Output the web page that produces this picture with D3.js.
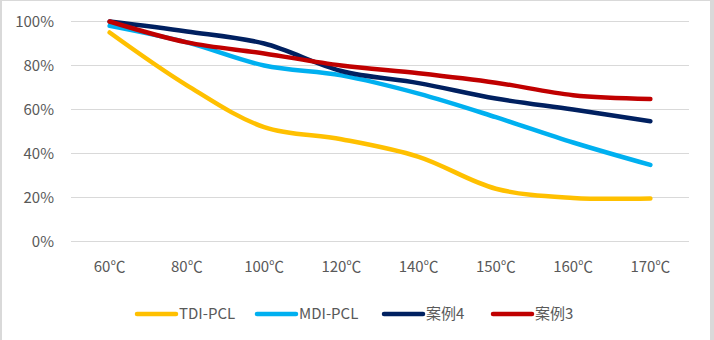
<!DOCTYPE html>
<html>
<head>
<meta charset="utf-8">
<script src="https://cdn.jsdelivr.net/npm/d3@7"></script>
<style>
  body { margin: 0; background: #fff; }
  svg text { font-family: "Noto Sans CJK SC", "Noto Sans", sans-serif; fill: #595959; }
</style>
</head>
<body>
<svg id="canvas" width="714" height="340"></svg>
<script>
// data
var categories = ['60℃', '80℃', '100℃', '120℃', '140℃', '150℃', '160℃', '170℃'];
var yTicks = [0, 0.2, 0.4, 0.6, 0.8, 1.0];
var seriesNames = ['TDI-PCL', 'MDI-PCL', '案例4', '案例3'];
var seriesColors = ['#FFC000', '#00B0F0', '#002060', '#C00000'];
var tdiPcl = [0.95, 0.71, 0.52, 0.465, 0.385, 0.24, 0.198, 0.196];
var mdiPcl = [0.98, 0.905, 0.80, 0.755, 0.672, 0.565, 0.45, 0.348];
var case4  = [1.00, 0.955, 0.90, 0.775, 0.72, 0.65, 0.60, 0.547];
var case3  = [1.00, 0.905, 0.855, 0.80, 0.765, 0.722, 0.665, 0.648];
var seriesValues = [tdiPcl, mdiPcl, case4, case3];

var svg = d3.select('#canvas');

// chart area frame
svg.append('rect').attr('x', 0).attr('y', 0).attr('width', 2).attr('height', 340).style('fill', '#D9D9D9');
svg.append('rect').attr('x', 710).attr('y', 0).attr('width', 4).attr('height', 340).style('fill', '#D9D9D9');
svg.append('rect').attr('x', 0).attr('y', 0).attr('width', 714).attr('height', 1).style('fill', '#D9D9D9');

var plot = { left: 71, right: 689, top: 21.5, bottom: 241.5 };

var xScale = d3.scaleBand().domain(categories).range([plot.left, plot.right]);
var yScale = d3.scaleLinear().domain([0, 1]).range([plot.bottom, plot.top]);

// gridlines
svg.append('g').selectAll('line').data(yTicks).enter().append('line')
  .attr('x1', plot.left).attr('x2', plot.right)
  .attr('y1', function(d){ return yScale(d); }).attr('y2', function(d){ return yScale(d); })
  .style('stroke', '#D9D9D9').style('stroke-width', 1.2);

// y axis labels
var yAxis = d3.axisLeft(yScale).tickValues(yTicks).tickFormat(d3.format('.0%')).tickSize(0).tickPadding(0);
var yG = svg.append('g').attr('transform', 'translate(54,0)').call(yAxis);
yG.select('.domain').remove();
yG.selectAll('text').style('font-size', '15px').style('fill', '#595959');

// x axis labels
var xAxis = d3.axisBottom(xScale).tickSize(0).tickPadding(0);
var xG = svg.append('g').attr('transform', 'translate(0,261)').call(xAxis);
xG.select('.domain').remove();
xG.selectAll('text').style('font-size', '15px').style('fill', '#595959');

// lines
var line = d3.line()
  .x(function(d, i){ return xScale(categories[i]) + xScale.bandwidth() / 2; })
  .y(function(d){ return yScale(d); })
  .curve(d3.curveCatmullRom.alpha(0.5));

svg.append('g').selectAll('path').data(seriesValues).enter().append('path')
  .attr('d', function(d){ return line(d); })
  .style('fill', 'none')
  .style('stroke', function(d, i){ return seriesColors[i]; })
  .style('stroke-width', 4.5)
  .style('stroke-linecap', 'round')
  .style('stroke-linejoin', 'round');

// legend
var legendX = [137, 257, 384, 493];
var legend = svg.append('g').selectAll('g').data(seriesNames).enter().append('g')
  .attr('transform', function(d, i){ return 'translate(' + legendX[i] + ',314)'; });
legend.append('line')
  .attr('x1', 0).attr('x2', 39).attr('y1', 0).attr('y2', 0)
  .style('stroke', function(d, i){ return seriesColors[i]; })
  .style('stroke-width', 4.5).style('stroke-linecap', 'round');
legend.append('text')
  .attr('x', 42).attr('y', 0).attr('dy', '0.35em')
  .style('font-size', '15px')
  .text(function(d){ return d; });
</script>
</body>
</html>
